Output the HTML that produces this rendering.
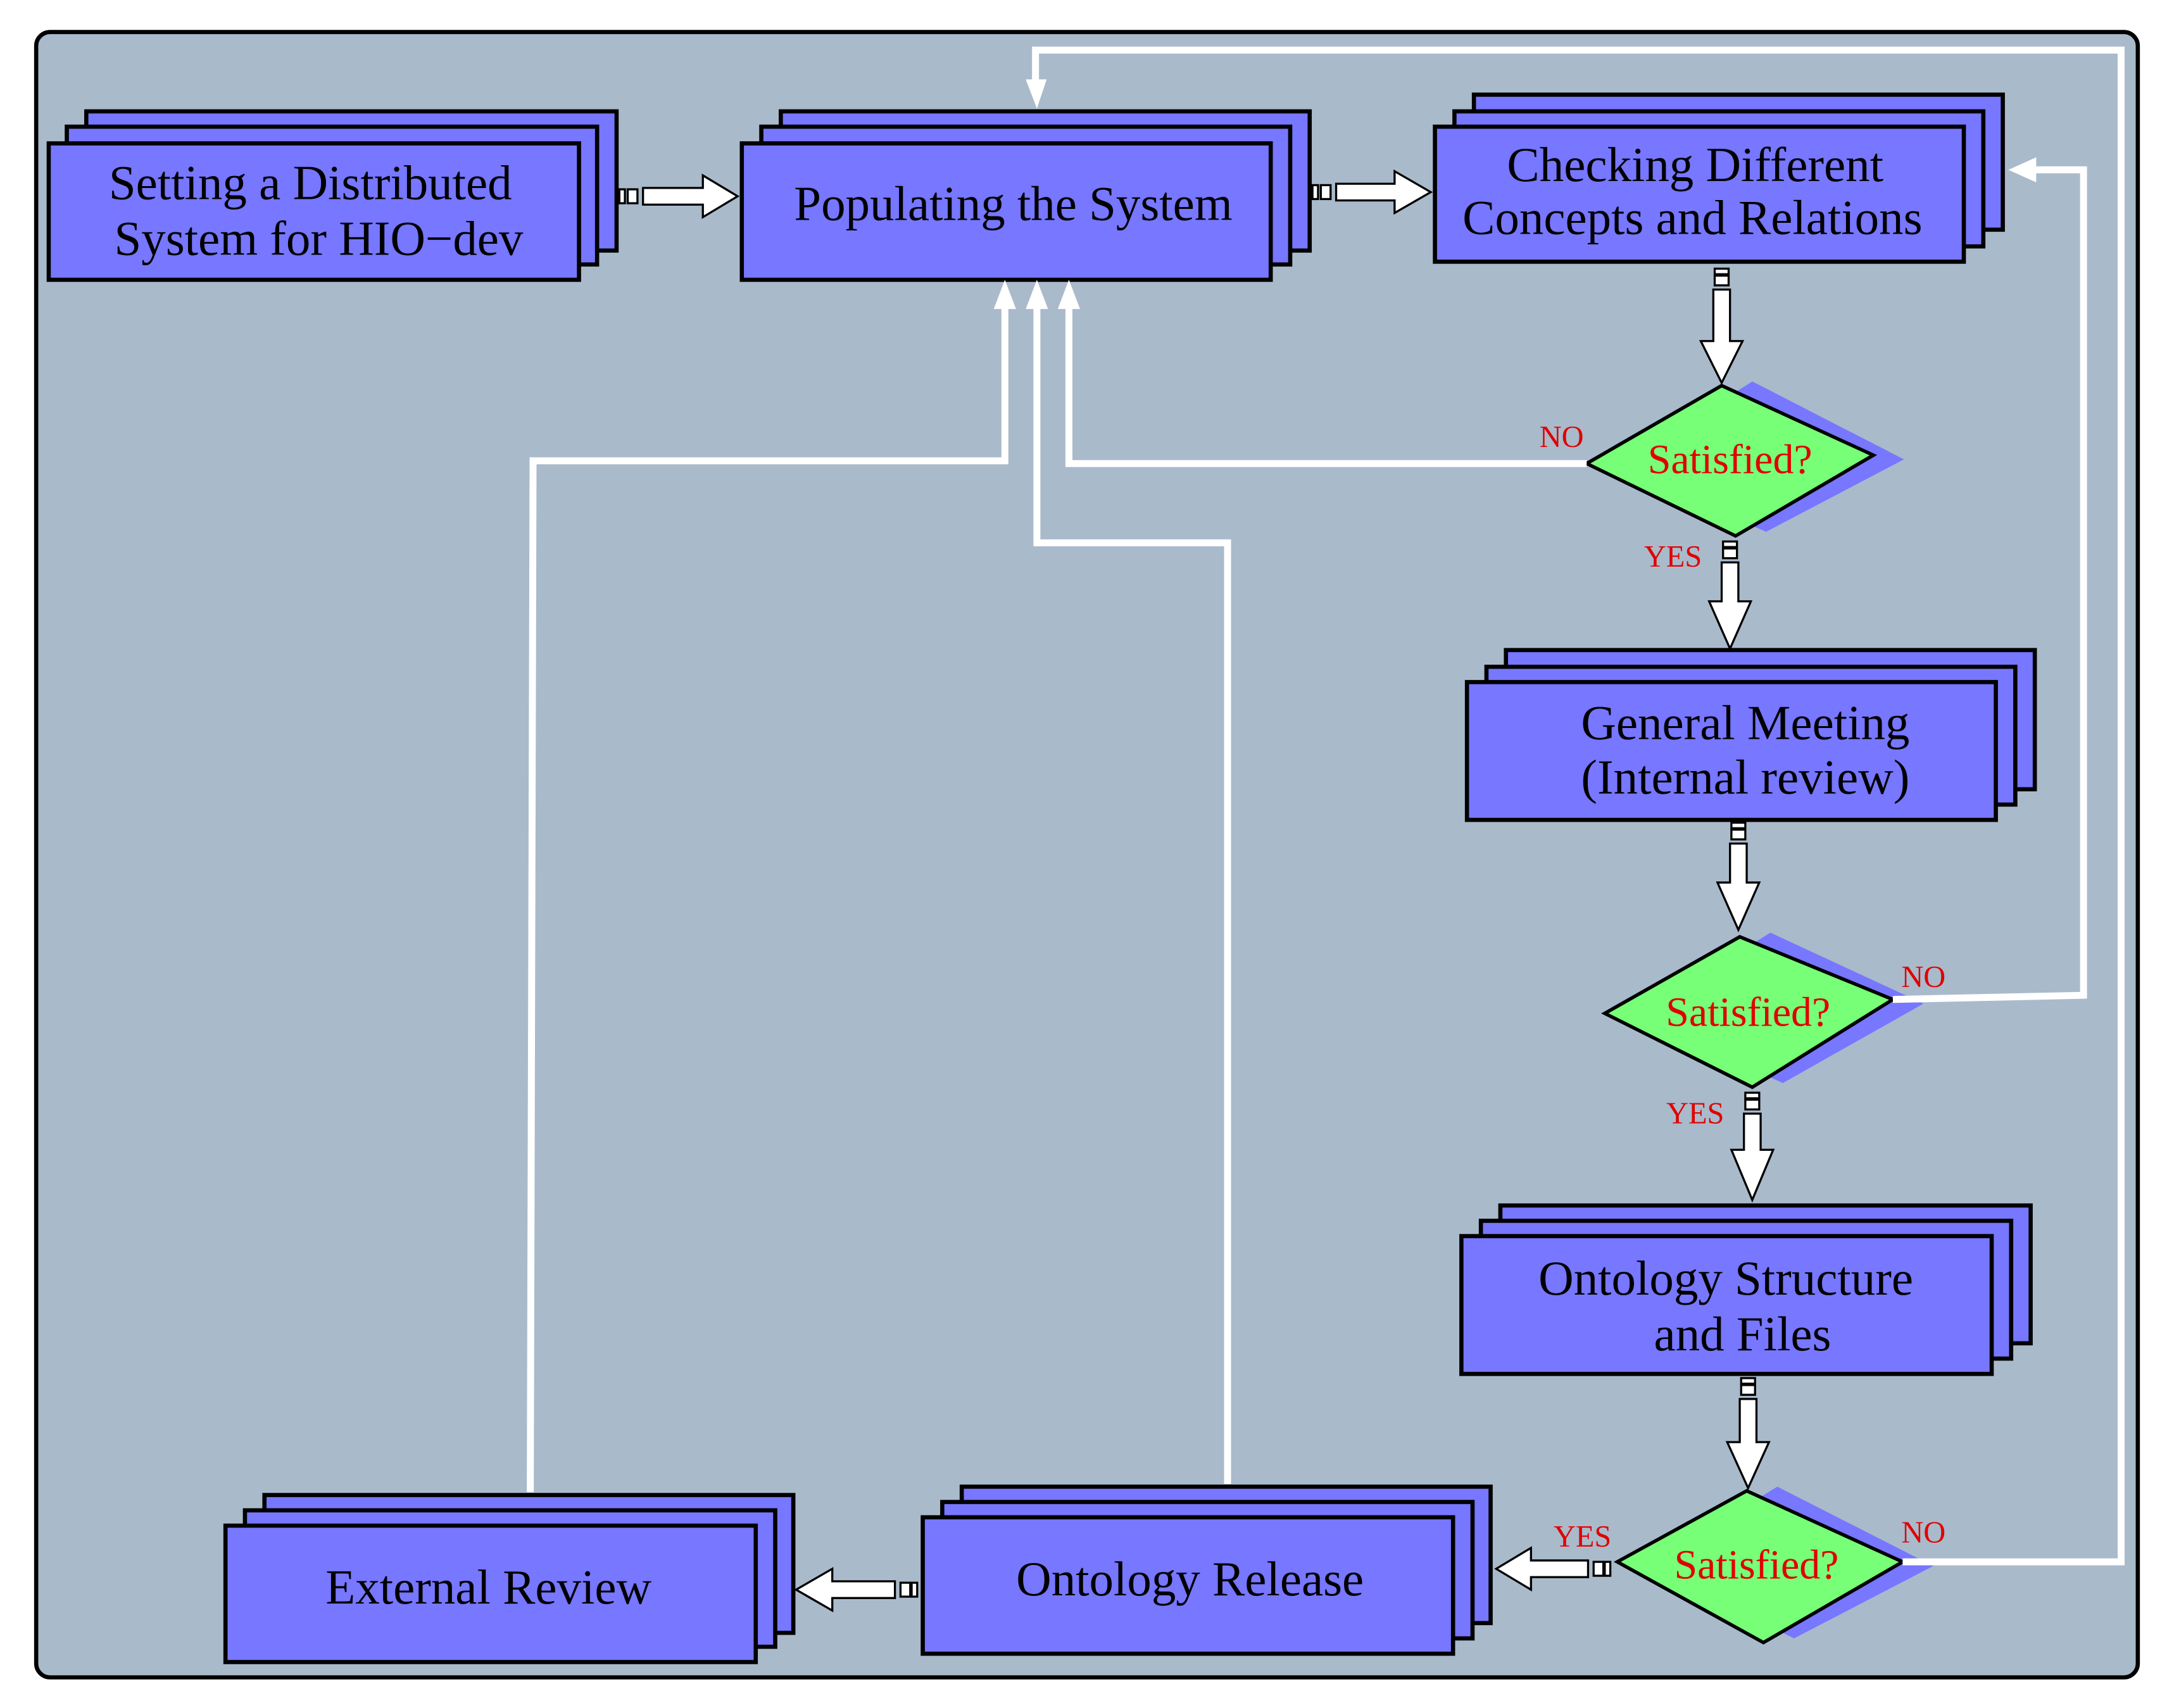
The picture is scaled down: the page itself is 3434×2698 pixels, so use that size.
<!DOCTYPE html>
<html><head><meta charset="utf-8"><style>html,body{margin:0;padding:0;background:#fff}svg{display:block}text{font-family:"Liberation Serif","DejaVu Serif",serif}</style></head>
<body>
<svg width="3434" height="2698" viewBox="0 0 1562 1227" preserveAspectRatio="none" xmlns="http://www.w3.org/2000/svg">
<rect x="26" y="23" width="1510" height="1182" rx="10" fill="#a9bacb" stroke="#000" stroke-width="3"/>
<g fill="#7777ff" stroke="#000" stroke-width="3">
<rect x="62" y="80" width="381" height="100"/><rect x="48" y="91" width="381" height="99"/><rect x="35" y="103" width="381" height="98"/>
<rect x="561" y="80" width="380" height="100"/><rect x="547" y="91" width="380" height="99"/><rect x="533" y="103" width="380" height="98"/>
<rect x="1059" y="68" width="380" height="97"/><rect x="1045" y="80" width="380" height="97"/><rect x="1031" y="91" width="380" height="97"/>
<rect x="1082" y="467" width="380" height="100"/><rect x="1068" y="479" width="380" height="99"/><rect x="1054" y="490" width="380" height="99"/>
<rect x="1078" y="866" width="381" height="99"/><rect x="1064" y="877" width="381" height="99"/><rect x="1050" y="888" width="381" height="99"/>
<rect x="691" y="1068" width="380" height="98"/><rect x="677" y="1079" width="381" height="98"/><rect x="663" y="1090" width="381" height="98"/>
<rect x="190" y="1074" width="380" height="99"/><rect x="176" y="1085" width="381" height="98"/><rect x="162" y="1096" width="381" height="98"/>
</g>
<g fill="#7777ff">
<polygon points="1259,274 1368,330 1269,382 1162,336"/>
<polygon points="1272,670 1382,721 1281,778 1175,731"/>
<polygon points="1277,1068 1389,1125 1289,1177 1184,1125"/>
</g>
<g fill="#77ff77" stroke="#000" stroke-width="2.5">
<polygon points="1237,277 1346,327 1247,385 1140,333"/>
<polygon points="1250,673 1360,718 1259,781 1153,728"/>
<polygon points="1255,1071 1367,1122 1267,1180 1162,1122"/>
</g>
<g fill="none" stroke="#fff" stroke-width="5">
<polyline points="1367,1122 1524,1122 1524,36 744,36 744,60"/>
<polyline points="1360,718 1497,715 1497,122 1460,122"/>
<polyline points="1140,333 768,333 768,220"/>
<polyline points="381,1072 383,331 722,331 722,220"/>
<polyline points="882,1066 882,390 745,390 745,220"/>
</g>
<g fill="#fff">
<polygon points="737,57 752,57 745,78"/>
<polygon points="1443,122 1463,113 1463,131"/>
<polygon points="714,222 730,222 722,201"/>
<polygon points="737,222 753,222 745,201"/>
<polygon points="760,222 776,222 768,201"/>
</g>
<g fill="#fff" stroke="#000" stroke-width="1.5">
<rect x="445" y="136" width="4" height="10"/><rect x="451" y="136" width="7" height="10"/>
<polygon points="462,135 505,135 505,126 530,141 505,156 505,147 462,147"/>
<rect x="943" y="133" width="4" height="10"/><rect x="949" y="133" width="7" height="10"/>
<polygon points="960,132 1002,132 1002,123 1028,138 1002,153 1002,144 960,144"/>
<rect x="1232" y="193" width="10" height="4"/><rect x="1232" y="198" width="10" height="7"/>
<polygon points="1231,208 1243,208 1243,245 1252,245 1237,275 1222,245 1231,245"/>
<rect x="1238" y="389" width="10" height="4"/><rect x="1238" y="394" width="10" height="7"/>
<polygon points="1237,404 1249,404 1249,432 1258,432 1243,466 1228,432 1237,432"/>
<rect x="1244" y="591" width="10" height="4"/><rect x="1244" y="596" width="10" height="7"/>
<polygon points="1243,606 1255,606 1255,634 1264,634 1249,668 1234,634 1243,634"/>
<rect x="1254" y="785" width="10" height="4"/><rect x="1254" y="790" width="10" height="7"/>
<polygon points="1253,800 1265,800 1265,826 1274,826 1259,862 1244,826 1253,826"/>
<rect x="1251" y="990" width="10" height="4"/><rect x="1251" y="995" width="10" height="7"/>
<polygon points="1250,1005 1262,1005 1262,1036 1271,1036 1256,1069 1241,1036 1250,1036"/>
<rect x="1153" y="1122" width="4" height="10"/><rect x="1145" y="1122" width="7" height="10"/>
<polygon points="1141,1121 1100,1121 1100,1112 1075,1127 1100,1142 1100,1133 1141,1133"/>
<rect x="655" y="1137" width="4" height="10"/><rect x="647" y="1137" width="7" height="10"/>
<polygon points="643,1136 598,1136 598,1127 572,1142 598,1157 598,1148 643,1148"/>
</g>
<g font-size="35" fill="#000" text-anchor="middle">
<text x="223" y="143">Setting a Distributed</text>
<text x="229" y="183">System for HIO−dev</text>
<text x="728" y="158">Populating the System</text>
<text x="1218" y="130">Checking Different</text>
<text x="1216" y="168">Concepts and Relations</text>
<text x="1254" y="531">General Meeting</text>
<text x="1254" y="570">(Internal review)</text>
<text x="1240" y="930">Ontology Structure</text>
<text x="1252" y="970">and Files</text>
<text x="855" y="1146">Ontology Release</text>
<text x="351" y="1152">External Review</text>
</g>
<g fill="#e00000" text-anchor="middle">
<text x="1243" y="340" font-size="30">Satisfied?</text>
<text x="1256" y="737" font-size="30">Satisfied?</text>
<text x="1262" y="1134" font-size="30">Satisfied?</text>
<g font-size="22">
<text x="1122" y="321">NO</text>
<text x="1202" y="407">YES</text>
<text x="1382" y="709">NO</text>
<text x="1218" y="807">YES</text>
<text x="1382" y="1108">NO</text>
<text x="1137" y="1111">YES</text>
</g>
</g>
</svg>
</body></html>
